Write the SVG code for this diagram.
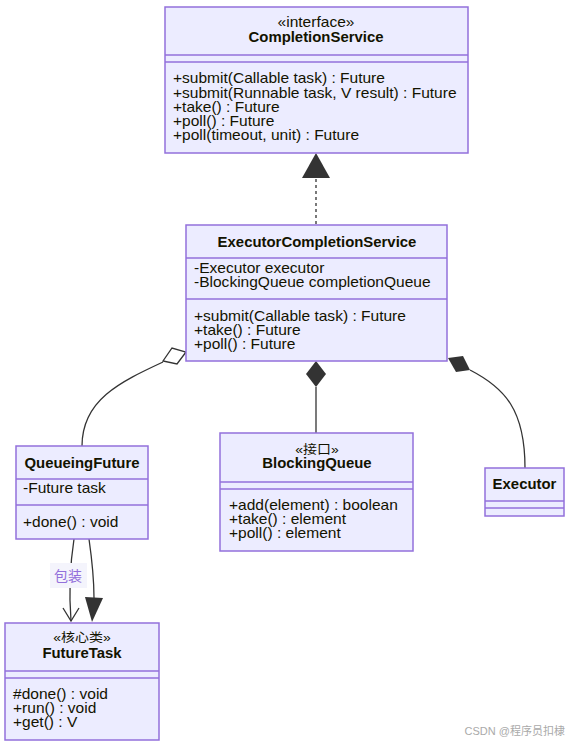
<svg xmlns="http://www.w3.org/2000/svg" width="568" height="742" viewBox="0 0 568 742">
<style>
.box{fill:#ECECFF;stroke:#9370DB;stroke-width:1.5}
.div{stroke:#9370DB;stroke-width:1.5}
text{font-family:"Liberation Sans","Noto Sans CJK SC",sans-serif;font-size:14px;fill:#131300}
.t{font-weight:bold;text-anchor:middle}
.s{text-anchor:middle}
.c{text-anchor:middle;font-size:12.5px}
.e{fill:none;stroke:#333;stroke-width:1.3}
.lbl{fill:#9370DB}
.wm{fill:#aaa;font-size:11px;text-anchor:end}
</style>
<g id="connectors">
<path class="e" d="M316,224 L316,178" stroke-dasharray="3,3"/>
<path d="M316,153 L330,178 L302,178 Z" fill="#333"/>
<path class="e" d="M163,362 C120,382 82,400 82,446"/>
<path d="M186,352 L177,364 L163,361 L172,348 Z" fill="#fff" stroke="#333" stroke-width="1.3"/>
<path class="e" d="M316,387 L316,433"/>
<path d="M316,361 L326,374 L316,387 L306,374 Z" fill="#333"/>
<path class="e" d="M470,370 C505,388 525,410 525,468"/>
<path d="M448,358 L463,356 L470,370 L456,372 Z" fill="#333"/>
<path class="e" d="M74,539 C70,565 69,595 71,621"/>
<path class="e" d="M63,608 L71,621 L79,608"/>
<path class="e" d="M89,539 C92,560 94,580 94,598"/>
<path d="M85,597 L103,598 L92,622 Z" fill="#333"/>
<rect x="50" y="563" width="37" height="25" fill="#F4F4FC"/>
<text class="lbl" x="54" y="581">包装</text>
</g>
<g id="CompletionService">
<rect class="box" x="165" y="7" width="303" height="146"/>
<line class="div" x1="165" y1="55" x2="468" y2="55"/>
<line class="div" x1="165" y1="62" x2="468" y2="62"/>
<text class="s" transform="translate(316,27) scale(1.11,1)">«interface»</text>
<text class="t" transform="translate(316,42) scale(1.065,1)">CompletionService</text>
<text transform="translate(173,83) scale(1.11,1)">+submit(Callable task) : Future</text>
<text transform="translate(173,97.5) scale(1.11,1)">+submit(Runnable task, V result) : Future</text>
<text transform="translate(173,111.5) scale(1.11,1)">+take() : Future</text>
<text transform="translate(173,125.5) scale(1.11,1)">+poll() : Future</text>
<text transform="translate(173,140) scale(1.11,1)">+poll(timeout, unit) : Future</text>
</g>
<g id="ExecutorCompletionService">
<rect class="box" x="186" y="225" width="261" height="136"/>
<line class="div" x1="186" y1="258" x2="447" y2="258"/>
<line class="div" x1="186" y1="299" x2="447" y2="299"/>
<text class="t" transform="translate(317,247) scale(1.065,1)">ExecutorCompletionService</text>
<text transform="translate(194,273) scale(1.11,1)">-Executor executor</text>
<text transform="translate(194,287) scale(1.11,1)">-BlockingQueue completionQueue</text>
<text transform="translate(194,320.5) scale(1.11,1)">+submit(Callable task) : Future</text>
<text transform="translate(194,334.5) scale(1.11,1)">+take() : Future</text>
<text transform="translate(194,349) scale(1.11,1)">+poll() : Future</text>
</g>
<g id="QueueingFuture">
<rect class="box" x="16" y="446" width="132" height="93"/>
<line class="div" x1="16" y1="479" x2="148" y2="479"/>
<line class="div" x1="16" y1="505" x2="148" y2="505"/>
<text class="t" transform="translate(82,468) scale(1.065,1)">QueueingFuture</text>
<text transform="translate(23,493) scale(1.11,1)">-Future task</text>
<text transform="translate(23,527) scale(1.11,1)">+done() : void</text>
</g>
<g id="BlockingQueue">
<rect class="box" x="220" y="433" width="193" height="118"/>
<line class="div" x1="220" y1="482" x2="413" y2="482"/>
<line class="div" x1="220" y1="489" x2="413" y2="489"/>
<text class="c" transform="translate(317,454) scale(1.12,1)">«接口»</text>
<text class="t" transform="translate(317,468) scale(1.065,1)">BlockingQueue</text>
<text transform="translate(229,510) scale(1.11,1)">+add(element) : boolean</text>
<text transform="translate(229,524) scale(1.11,1)">+take() : element</text>
<text transform="translate(229,538) scale(1.11,1)">+poll() : element</text>
</g>
<g id="Executor">
<rect class="box" x="485" y="468" width="79" height="48"/>
<line class="div" x1="485" y1="501" x2="564" y2="501"/>
<line class="div" x1="485" y1="508" x2="564" y2="508"/>
<text class="t" transform="translate(524.5,489) scale(1.065,1)">Executor</text>
</g>
<g id="FutureTask">
<rect class="box" x="5" y="623" width="154" height="117"/>
<line class="div" x1="5" y1="671" x2="159" y2="671"/>
<line class="div" x1="5" y1="678" x2="159" y2="678"/>
<text class="c" transform="translate(82,642) scale(1.12,1)">«核心类»</text>
<text class="t" transform="translate(82,658) scale(1.065,1)">FutureTask</text>
<text transform="translate(13,699) scale(1.11,1)">#done() : void</text>
<text transform="translate(13,713) scale(1.11,1)">+run() : void</text>
<text transform="translate(13,727) scale(1.11,1)">+get() : V</text>
</g>
<text class="wm" x="565" y="735">CSDN @程序员扣棣</text>
</svg>
